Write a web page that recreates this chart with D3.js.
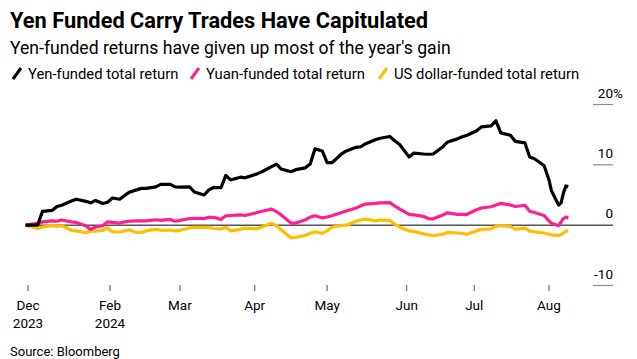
<!DOCTYPE html>
<html><head><meta charset="utf-8">
<script src="https://cdn.jsdelivr.net/npm/d3@7"></script>
<style>
body{margin:0;background:#fff;}
svg{display:block;}
text{font-family:Roboto,"Liberation Sans",Arial,sans-serif;}
</style></head>
<body><svg id="chart" width="637" height="359"></svg>
<script>
const title = "Yen Funded Carry Trades Have Capitulated";
const subtitle = "Yen-funded returns have given up most of the year's gain";
const source = "Source: Bloomberg";
const seriesNames = ["Yen-funded total return","Yuan-funded total return","US dollar-funded total return"];
const seriesColors = ["#000000","#ff1f8f","#ffbf00"];

const dates = ["2023-12-28","2024-01-02","2024-01-04","2024-01-08","2024-01-10","2024-01-12","2024-01-16","2024-01-18","2024-01-22","2024-01-24","2024-01-26","2024-01-29","2024-01-31",
"2024-02-02","2024-02-05","2024-02-07","2024-02-09","2024-02-12","2024-02-14","2024-02-16","2024-02-20","2024-02-22","2024-02-26","2024-02-28",
"2024-03-01","2024-03-05","2024-03-07","2024-03-11","2024-03-13","2024-03-15","2024-03-18","2024-03-20","2024-03-22","2024-03-26","2024-03-28",
"2024-04-02","2024-04-04","2024-04-08","2024-04-10","2024-04-12","2024-04-16","2024-04-18","2024-04-22","2024-04-24","2024-04-26","2024-04-29",
"2024-05-01","2024-05-03","2024-05-07","2024-05-09","2024-05-13","2024-05-15","2024-05-17","2024-05-21","2024-05-23","2024-05-27","2024-05-29","2024-05-31",
"2024-06-04","2024-06-06","2024-06-10","2024-06-12","2024-06-14","2024-06-18","2024-06-20","2024-06-24","2024-06-26","2024-06-28",
"2024-07-02","2024-07-04","2024-07-08","2024-07-10","2024-07-12","2024-07-16","2024-07-18","2024-07-22","2024-07-24","2024-07-26","2024-07-30",
"2024-08-01","2024-08-02","2024-08-05","2024-08-06","2024-08-07","2024-08-08","2024-08-09"];

const yenFunded = [0,0,2.3,2.45,3.1,3.3,4.0,4.3,3.95,3.7,4.1,3.6,3.8,
4.5,4.3,4.9,5.45,5.85,6.1,6.1,6.35,6.75,6.75,6.35,
6.3,6.35,5.5,5.0,5.85,6.25,6.2,8.25,7.5,7.95,7.85,
8.5,8.85,9.7,10.1,9.3,8.85,9.2,9.5,10.15,12.65,12.3,
10.35,10.35,11.8,12.3,12.9,13.0,13.5,14.15,14.4,14.7,14.0,13.4,
11.3,11.95,11.8,11.75,11.8,13.0,13.8,14.3,14.65,14.9,
15.65,16.3,16.45,17.3,15.3,14.9,13.9,13.65,11.3,11.0,9.85,
7.5,5.7,3.35,3.7,5.35,6.5,6.4];

const yuanFunded = [0,0.3,0.55,0.7,0.65,0.85,0.55,0.45,-0.1,-0.7,-0.3,-0.1,0.55,
0.45,0.35,0.55,0.65,0.7,0.7,0.7,0.9,0.8,0.95,0.65,
0.8,1.1,1.15,1.1,1.3,1.3,0.95,1.55,1.6,1.7,1.6,
2.1,2.3,2.65,2.25,1.7,0.35,0.35,0.9,1.35,1.55,1.2,
1.35,1.55,2.1,2.35,2.85,3.2,3.5,3.6,3.7,3.75,3.2,2.7,
1.8,1.7,1.45,1.1,1.05,1.7,2.05,1.8,1.8,1.8,
2.55,2.85,3.05,3.35,3.6,3.35,3.1,3.3,2.3,2.1,1.6,
0.7,0.3,-0.1,0.55,1.1,1.35,1.2];

const usdFunded = [0,-0.55,-0.3,-0.1,-0.2,-0.1,-0.85,-0.95,-1.25,-1.0,-1.0,-0.85,-0.45,
-1.1,-1.1,-0.95,-0.8,-1.2,-1.2,-0.95,-0.7,-0.85,-0.8,-0.95,
-0.85,-0.45,-0.35,-0.35,-0.35,-0.55,-0.65,-0.35,-0.95,-0.7,-0.5,
-0.6,-0.3,0.3,-0.1,-0.8,-2.1,-2.0,-1.7,-1.35,-1.1,-1.35,
-0.95,-0.35,-0.05,0.0,0.65,0.9,1.0,0.7,0.85,0.8,0.15,-0.3,
-0.95,-1.05,-1.45,-1.6,-1.75,-1.5,-1.2,-1.3,-1.35,-1.5,
-0.95,-0.7,-0.6,-0.2,-0.05,-0.25,-0.65,-0.5,-1.0,-1.1,-1.3,
-1.5,-1.6,-1.7,-1.6,-1.3,-1.0,-0.95];

const xTickDates = ["2023-12-29","2024-02-01","2024-03-01","2024-04-01","2024-05-01","2024-06-03","2024-07-01","2024-08-01"];
const xTickLabels = [["Dec","2023"],["Feb","2024"],["Mar"],["Apr"],["May"],["Jun"],["Jul"],["Aug"]];
const yTicks = [-10,0,10,20];

const parse = d3.utcParse("%Y-%m-%d");
const svg = d3.select("#chart");

const x = d3.scaleUtc().domain([parse("2024-02-01"), parse("2024-08-01")]).range([110, 549]);
const y = d3.scaleLinear().domain([-10, 20]).range([285.5, 104.5]);
const plotLeft = 25, plotRight = 613;

// titles
svg.append("text").attr("x",10).attr("y",28).attr("font-size",21.8).attr("font-weight",700).attr("fill","#000").text(title);
svg.append("text").attr("x",10).attr("y",54).attr("font-size",17.6).attr("fill","#000").text(subtitle);

// legend
const legendX = [12, 190, 378];
seriesNames.forEach((n,i)=>{
  const g = svg.append("g").attr("transform",`translate(${legendX[i]},0)`);
  g.append("line").attr("x1",1).attr("y1",79).attr("x2",9).attr("y2",68)
    .attr("stroke",seriesColors[i]).attr("stroke-width",3).attr("stroke-linecap","butt");
  g.append("text").attr("x",16).attr("y",79).attr("font-size",14.8).attr("fill","#000").text(n);
});

// right axis
yTicks.forEach(t=>{
  if (t!==0) svg.append("line").attr("x1",593).attr("x2",plotRight).attr("y1",y(t)).attr("y2",y(t))
    .attr("stroke","#8c8c8c").attr("stroke-width",1.2);
  svg.append("text").attr("x",plotRight).attr("y",y(t)-7).attr("text-anchor","end")
    .attr("font-size",13.5).attr("fill","#000").text(t);
  if (t===20) svg.append("text").attr("x",plotRight).attr("y",y(t)-7).attr("font-size",13.5).attr("fill","#000").text("%");
});

// x axis ticks
xTickDates.forEach((d,i)=>{
  const xx = x(parse(d));
  svg.append("line").attr("x1",xx).attr("x2",xx).attr("y1",285).attr("y2",291)
    .attr("stroke","#555").attr("stroke-width",1);
  xTickLabels[i].forEach((lab,j)=>{
    svg.append("text").attr("x",xx).attr("y",310+j*18).attr("text-anchor","middle")
      .attr("font-size",13.5).attr("fill","#000").text(lab);
  });
});

// zero line
svg.append("line").attr("x1",plotLeft).attr("x2",plotRight).attr("y1",y(0)).attr("y2",y(0))
  .attr("stroke","#000").attr("stroke-width",1);

// series
const line = d3.line().x((d,i)=>x(parse(dates[i]))).y(d=>y(d)).curve(d3.curveLinear);
[usdFunded, yuanFunded, yenFunded].forEach((s,k)=>{
  const idx = 2-k;
  svg.append("path").datum(s).attr("d",line).attr("fill","none")
    .attr("stroke",seriesColors[idx]).attr("stroke-width",3.2).attr("stroke-linejoin","round");
});

svg.append("text").attr("x",10).attr("y",356).attr("font-size",13).attr("fill","#000").text(source);
</script></body></html>
